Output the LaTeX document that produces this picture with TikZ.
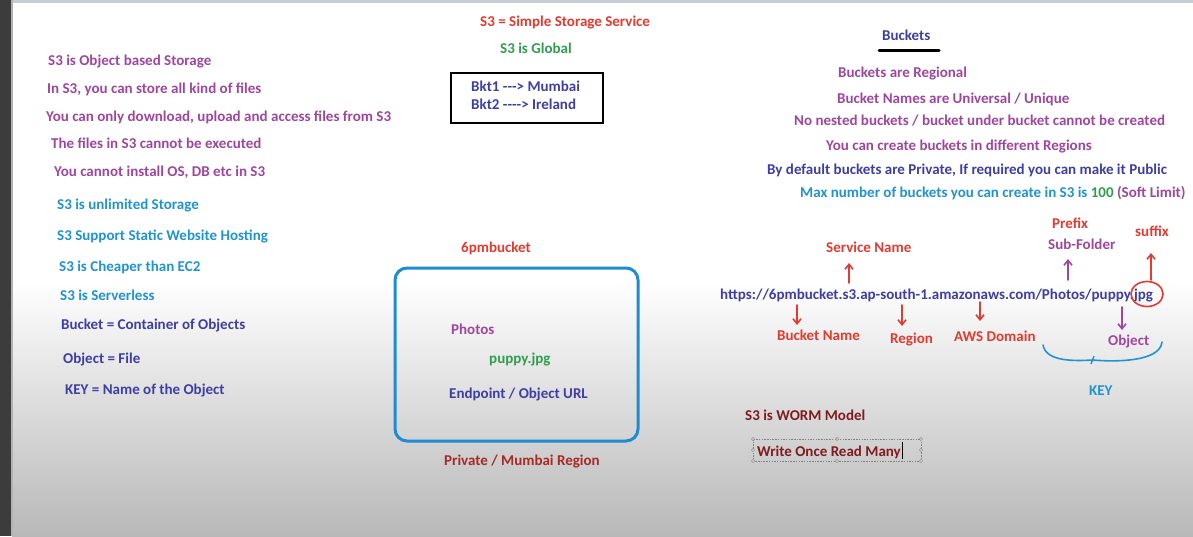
\documentclass[tikz,border=0pt]{standalone}
\usepackage{fontspec}
\setmainfont{Carlito}
\usetikzlibrary{arrows.meta}
\definecolor{cpurple}{RGB}{160,70,160}
\definecolor{cblue}{RGB}{32,148,208}
\definecolor{cindigo}{RGB}{62,62,165}
\definecolor{cred}{RGB}{228,58,48}
\definecolor{cgreen}{RGB}{48,158,78}
\definecolor{cdred}{RGB}{165,42,40}
\definecolor{cmaroon}{RGB}{128,28,32}
\definecolor{cbox}{RGB}{30,140,210}
\definecolor{cdark}{RGB}{60,60,60}
\definecolor{ctop}{RGB}{200,205,213}
\definecolor{cbottom}{RGB}{184,184,184}
\newcommand{\hy}{\mbox{-}}
\begin{document}
\begin{tikzpicture}[x=1pt,y=-1pt,
  txt/.style={font=\bfseries\fontsize{15}{17}\selectfont, inner sep=0pt, anchor=base west},
  arr/.style={line width=1.6pt, -{Straight Barb[length=5pt,width=8pt]}, line cap=round},
  handle/.style={draw=gray, fill=white, line width=0.5pt, inner sep=0pt, minimum size=3pt, circle}]
% background
\useasboundingbox (0,0) rectangle (1193,536);
\fill[white] (0,0) rectangle (1193,536);
\shade[top color=white, bottom color=cbottom] (12,280) rectangle (1193,536);
\fill[ctop] (12,0) rectangle (1193,3);
\fill[cdark] (0,0) rectangle (11,536);
\fill[gray!60] (11,0) rectangle (12.5,536);

% left column
\node[txt, text=cpurple] (l1) at (48,65) {S3 is Object based Storage};
\node[txt, text=cpurple] (l2) at (47,93) {In S3, you can store all kind of files};
\node[txt, text=cpurple] (l3) at (46,121) {You can only download, upload and access files from S3};
\node[txt, text=cpurple] (l4) at (51,148) {The files in S3 cannot be executed};
\node[txt, text=cpurple] (l5) at (54,176) {You cannot install OS, DB etc in S3};
\node[txt, text=cblue] (l6) at (57,209) {S3 is unlimited Storage};
\node[txt, text=cblue] (l7) at (57,240) {S3 Support Static Website Hosting};
\node[txt, text=cblue] (l8) at (59,271) {S3 is Cheaper than EC2};
\node[txt, text=cblue] (l9) at (60,300) {S3 is Serverless};
\node[txt, text=cindigo] (l10) at (61,329) {Bucket = Container of Objects};
\node[txt, text=cindigo] (l11) at (63,363) {Object = File};
\node[txt, text=cindigo] (l12) at (65,394) {KEY = Name of the Object};

% middle
\node[txt, text=cred] (m1) at (480,26) {S3 = Simple Storage Service};
\node[txt, text=cgreen] (m2) at (500,53) {S3 is Global};
\draw[line width=2.4pt] (451,73) rectangle (603,123);
\node[txt, text=cindigo] (b1) at (471,91) {Bkt1 \hy\hy\hy> Mumbai};
\node[txt, text=cindigo] (b2) at (471,109) {Bkt2 \hy\hy\hy\hy> Ireland};
\node[txt, text=cred] (bk) at (461,252) {6pmbucket};
\draw[cbox, line width=3pt, rounded corners=12pt] (395,268) rectangle (638,441);
\node[txt, text=cpurple] (ph) at (451,334) {Photos};
\node[txt, text=cgreen] (pp) at (489,363) {puppy.jpg};
\node[txt, text=cindigo] (ep) at (449,398) {Endpoint / Object URL};
\node[txt, text=cdred] (pm) at (444,465) {Private / Mumbai Region};

% right: buckets
\node[txt, text=cindigo] (bh) at (882,40) {Buckets};
\draw[line width=3pt, line cap=round] (879,50) -- (939,50);
\node[txt, text=cpurple] (r1) at (838,77) {Buckets are Regional};
\node[txt, text=cpurple] (r2) at (837,103) {Bucket Names are Universal / Unique};
\node[txt, text=cpurple] (r3) at (794,125) {No nested buckets / bucket under bucket cannot be created};
\node[txt, text=cpurple] (r4) at (826,150) {You can create buckets in different Regions};
\node[txt, text=cindigo] (r5) at (767,174) {By default buckets are Private, If required you can make it Public};
\node[txt, text=cblue] (r6) at (800,197) {Max number of buckets you can create in S3 is \textcolor{cgreen}{100} \textcolor{cpurple}{(Soft Limit)}};

% URL anatomy
\node[txt, text=cindigo] (url) at (720,299) {https://6pmbucket.s3.ap-south-1.amazonaws.com/Photos/puppy.jpg};
\node[txt, text=cred] (sn) at (826,252) {Service Name};
\node[txt, text=cred] (bn) at (777,340) {Bucket Name};
\node[txt, text=cred] (rg) at (890,343) {Region};
\node[txt, text=cred] (aws) at (954,341) {AWS Domain};
\node[txt, text=cred] (pf) at (1052,228) {Prefix};
\node[txt, text=cpurple] (sf) at (1048,249) {Sub-Folder};
\node[txt, text=cred] (sx) at (1135,236) {suffix};
\node[txt, text=cpurple] (ob) at (1108,345) {Object};
\node[txt, text=cblue] (key) at (1089,395) {KEY};

\coordinate (snA) at (849,283);  \coordinate (snB) at (849,263);
\coordinate (bnA) at (797,305);  \coordinate (bnB) at (797,325);
\coordinate (rgA) at (902,305);  \coordinate (rgB) at (902,326);
\coordinate (awA) at (980,302);  \coordinate (awB) at (980,321);
\coordinate (sfA) at (1068,280); \coordinate (sfB) at (1068,259);
\coordinate (sxA) at (1151,280); \coordinate (sxB) at (1151,253);
\coordinate (obA) at (1122,307); \coordinate (obB) at (1122,330);
\draw[arr, cred] (snA) -- (snB);
\draw[arr, cred] (bnA) -- (bnB);
\draw[arr, cred] (rgA) -- (rgB);
\draw[arr, cred] (awA) -- (awB);
\draw[arr, cpurple] (sfA) -- (sfB);
\draw[arr, cred] (sxA) -- (sxB);
\draw[arr, cpurple] (obA) -- (obB);
\draw[cred, line width=1.6pt] (1147,294) ellipse [x radius=16, y radius=12.5];
% brace
\coordinate (brL) at (1043,345);
\coordinate (brM) at (1093,360);
\coordinate (brR) at (1162,342);
\draw[cblue, line width=1.6pt, line cap=round] (brL) .. controls (1046,362) and (1075,361) .. (brM)
  .. controls (1115,362) and (1160,362) .. (brR);
\draw[cblue, line width=1.4pt] (1091,364) -- (1094,356);

% WORM
\node[txt, text=cmaroon] (wm) at (745,420) {S3 is WORM Model};
\node[txt, text=cmaroon] (wo) at (757,456) {Write Once Read Many};
\draw[gray, line width=0.6pt, dash pattern=on 1.5pt off 1.2pt] (753,439) rectangle (921,461);
\foreach \p in {(753,439),(837,439),(921,439),(753,450),(921,450),(753,461),(837,461),(921,461)}
  \node[handle] at \p {};
\draw[black, line width=0.7pt] (wo.base east) ++(1,3) -- ++(0,-17);
\end{tikzpicture}
\end{document}
